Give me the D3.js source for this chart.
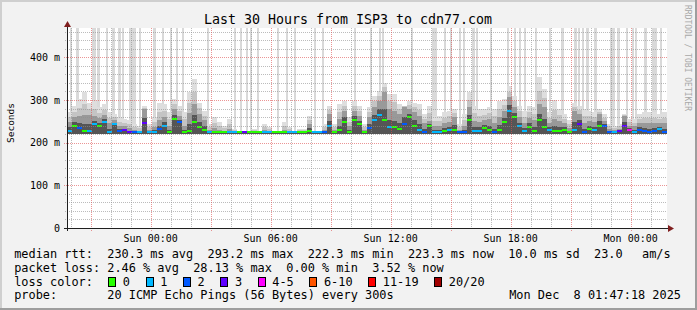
<!DOCTYPE html>
<html>
<head>
<meta charset="utf-8">
<title>Last 30 Hours from ISP3 to cdn77.com</title>
<script src="https://cdnjs.cloudflare.com/ajax/libs/d3/7.8.5/d3.min.js"></script>
<style>
    body { margin: 0; background: #f2f2f2; }
    svg { display: block; }
    text { font-family: "DejaVu Sans Mono", monospace; fill: #000; }
</style>
</head>
<body>
<div id="chart"></div>
<script>

// time window of the graph, one bucket = 15 minutes
var chartStart = new Date(2025, 11, 6, 19, 49);
var chartEnd = new Date(2025, 11, 8, 1, 49);
var bucketMinutes = 15;
var yMax = 468.75;          // ms, top of the canvas
var smokeFloor = 221;       // ms, fastest pings

// median rtt per bucket (ms)
var medianRtt = [
    228, 240, 234, 228, 228, 244, 240, 248, 224, 244, 228, 230, 224, 224, 224, 245, 224, 224, 232, 240, 224, 255, 248, 224,
    228, 248, 236, 230, 224, 224, 224, 224, 224, 224, 224, 224, 224, 224, 224, 224, 224, 224, 224, 224, 224, 224, 224, 226,
    228, 224, 224, 224, 240, 224, 230, 249, 224, 253, 244, 224, 234, 252, 265, 252, 236, 236, 232, 244, 261, 240, 230, 224,
    238, 224, 224, 228, 230, 230, 224, 224, 252, 228, 228, 234, 230, 224, 230, 248, 275, 259, 238, 227, 237, 228, 252, 236,
    230, 227, 228, 230, 224, 230, 244, 224, 232, 230, 240, 240, 224, 224, 228, 240, 230, 224, 230, 227, 224, 227, 232, 224
];

// index into lossColors per bucket
var lossBucket = [
    1, 0, 2, 0, 1, 1, 0, 1, 1, 1, 2, 3, 3, 2, 1, 3, 1, 1, 2, 1, 0, 0, 2, 0,
    0, 0, 0, 0, 1, 0, 0, 0, 1, 1, 0, 3, 0, 0, 0, 1, 1, 0, 0, 0, 1, 1, 0, 0,
    0, 1, 1, 2, 1, 0, 0, 0, 0, 0, 0, 0, 2, 1, 1, 0, 1, 0, 0, 2, 0, 0, 1, 2,
    0, 1, 1, 0, 1, 0, 2, 2, 0, 1, 1, 0, 0, 2, 0, 0, 1, 0, 1, 1, 0, 0, 0, 0,
    1, 0, 0, 0, 0, 1, 3, 2, 0, 1, 0, 2, 2, 1, 3, 3, 4, 1, 2, 2, 2, 2, 1, 2
];

// top of the dense (dark) smoke per bucket (ms)
var smokeInner = [
    248, 259, 262, 265, 265, 262, 258, 264, 245, 252, 240, 238, 234, 230, 228, 278, 230, 236, 252, 260, 240, 278, 262, 238,
    270, 290, 268, 252, 230, 234, 230, 228, 232, 226, 225, 225, 225, 226, 225, 230, 228, 225, 225, 230, 228, 225, 226, 228,
    244, 225, 225, 230, 267, 230, 255, 275, 238, 275, 262, 230, 259, 283, 298, 318, 279, 275, 267, 283, 279, 271, 263, 245,
    251, 240, 240, 245, 248, 259, 230, 240, 283, 251, 248, 252, 255, 245, 259, 275, 306, 283, 260, 245, 258, 252, 290, 283,
    245, 255, 250, 245, 235, 275, 267, 245, 250, 248, 267, 250, 232, 230, 232, 263, 240, 238, 245, 245, 245, 245, 245, 245
];

// top of the light smoke per bucket (ms)
var smokeOuter = [
    271, 287, 302, 318, 294, 298, 283, 290, 271, 267, 259, 255, 252, 244, 240, 285, 244, 259, 294, 290, 271, 302, 287, 271,
    318, 349, 294, 275, 244, 259, 248, 240, 255, 232, 228, 228, 227, 232, 227, 244, 236, 227, 228, 248, 236, 228, 232, 232,
    263, 228, 227, 244, 287, 244, 291, 298, 259, 298, 287, 244, 283, 310, 322, 341, 314, 314, 291, 287, 298, 294, 291, 267,
    287, 263, 263, 271, 275, 279, 244, 267, 318, 287, 279, 279, 283, 279, 298, 302, 333, 310, 287, 275, 287, 283, 353, 326,
    271, 300, 279, 267, 252, 294, 287, 279, 275, 271, 279, 267, 244, 240, 244, 267, 255, 255, 267, 271, 271, 271, 267, 271
];

// pings lost above the top of the graph: start (hours after chartStart), length (5 min steps)
var spikeHour = [
    0.165, 0.45, 1.235, 1.35, 1.5, 1.935, 2.235, 2.565, 2.765, 3.1, 3.6, 4.315, 4.735, 5.165, 5.435, 5.765,
    7.0, 8.335, 8.665, 8.935, 9.15, 9.5, 10.5, 10.965, 11.335, 12.335, 12.735, 14.335, 15.165, 15.6, 15.735,
    17.2, 18.265, 18.865, 19.135, 19.6, 19.8, 20.235, 20.435, 21.135, 22.0, 22.365, 22.6, 22.865, 23.4,
    24.1, 24.7, 25.335, 25.565, 25.735, 25.965, 26.335, 27.165, 27.5, 27.935, 28.265, 28.4, 28.835, 29.235, 29.665
];
var spikeSteps = [
    1, 2, 1, 1, 2, 1, 2, 2, 1, 4, 1, 2, 1, 1, 1, 1,
    1, 1, 1, 1, 1, 1, 1, 1, 1, 1, 1, 1, 1, 1, 1,
    1, 3, 1, 1, 1, 1, 2, 1, 1, 1, 1, 1, 1, 1,
    1, 2, 2, 1, 1, 2, 2, 3, 2, 1, 1, 1, 2, 3, 1
];

var yTicks = [0, 100, 200, 300, 400];
var lossLabels = ["0", "1", "2", "3", "4-5", "6-10", "11-19", "20/20"];
var lossColors = ["#26ff00", "#00b8ff", "#0059ff", "#5e00ff", "#ff00ff", "#ff5500", "#ff0000", "#a10000"];

var titleText = "Last 30 Hours from ISP3 to cdn77.com";
var legendLines = [
    "median rtt:  230.3 ms avg  293.2 ms max  222.3 ms min  223.3 ms now  10.0 ms sd  23.0",
    "packet loss: 2.46 % avg  28.13 % max  0.00 % min  3.52 % now",
    "loss color:",
    "probe:       20 ICMP Echo Pings (56 Bytes) every 300s"
];
var unitText = "am/s";
var stampText = "Mon Dec  8 01:47:18 2025";


SmokeChart = function(_parentElement){
    this.parentElement = _parentElement;
    this.initVis();
}

SmokeChart.prototype.initVis = function(){
    var vis = this;

    vis.width = 697;
    vis.height = 310;
    vis.margin = { top: 28, right: 30, bottom: 82, left: 67 };
    vis.plotW = vis.width - vis.margin.left - vis.margin.right;
    vis.plotH = vis.height - vis.margin.top - vis.margin.bottom;

    vis.svg = d3.select(vis.parentElement).append("svg")
        .attr("width", vis.width)
        .attr("height", vis.height);

    vis.x = d3.scaleTime()
        .domain([chartStart, chartEnd])
        .range([vis.margin.left, vis.margin.left + vis.plotW]);

    vis.y = d3.scaleLinear()
        .domain([0, yMax])
        .range([vis.margin.top + vis.plotH, vis.margin.top]);

    // rrdtool frame
    vis.svg.append("rect").attr("width", vis.width).attr("height", vis.height).style("fill", "#f2f2f2");
    vis.svg.append("rect").attr("width", vis.width).attr("height", 2).style("fill", "#cfcfcf");
    vis.svg.append("rect").attr("width", 2).attr("height", vis.height).style("fill", "#cfcfcf");
    vis.svg.append("rect").attr("y", vis.height - 2).attr("width", vis.width).attr("height", 2).style("fill", "#9e9e9e");
    vis.svg.append("rect").attr("x", vis.width - 2).attr("width", 2).attr("height", vis.height).style("fill", "#9e9e9e");

    vis.svg.append("rect")
        .attr("x", vis.margin.left).attr("y", vis.margin.top)
        .attr("width", vis.plotW).attr("height", vis.plotH)
        .style("fill", "#ffffff");

    vis.wrangleData();
};

SmokeChart.prototype.wrangleData = function(){
    var vis = this;

    vis.buckets = medianRtt.map(function(m, i) {
        return {
            t0: d3.timeMinute.offset(chartStart, i * bucketMinutes),
            t1: d3.timeMinute.offset(chartStart, (i + 1) * bucketMinutes),
            median: m,
            loss: lossBucket[i],
            inner: smokeInner[i],
            outer: smokeOuter[i]
        };
    });

    vis.spikes = spikeHour.map(function(h, i) {
        var t0 = d3.timeMinute.offset(chartStart, Math.round(h * 60));
        return { t0: t0, t1: d3.timeMinute.offset(t0, spikeSteps[i] * 5) };
    });

    vis.updateVis();
};

SmokeChart.prototype.updateVis = function(){
    var vis = this;
    var x = vis.x, y = vis.y;
    var bottom = vis.margin.top + vis.plotH;
    var right = vis.margin.left + vis.plotW;

    // lost pings reaching past the top
    vis.svg.append("g").style("shape-rendering", "crispEdges").selectAll("rect")
        .data(vis.spikes)
        .enter().append("rect")
        .attr("x", function(d) { return Math.round(x(d.t0)); })
        .attr("y", y(yMax))
        .attr("width", function(d) { return Math.max(2, Math.round(x(d.t1) - x(d.t0))); })
        .attr("height", y(smokeFloor) - y(yMax))
        .style("fill", "#d9d9d9");

    // smoke, light to dark
    var layers = [
        { color: "#dedede", top: function(d) { return d.outer; } },
        { color: "#c4c4c4", top: function(d) { return (d.inner + d.outer) / 2; } },
        { color: "#999999", top: function(d) { return d.inner; } },
        { color: "#555555", top: function(d) { return d.median + (d.inner - d.median) * 0.4; } }
    ];

    layers.forEach(function(layer) {
        vis.svg.append("g").style("shape-rendering", "crispEdges").selectAll("rect")
            .data(vis.buckets)
            .enter().append("rect")
            .attr("x", function(d) { return x(d.t0); })
            .attr("y", function(d) { return y(layer.top(d)); })
            .attr("width", function(d) { return x(d.t1) - x(d.t0); })
            .attr("height", function(d) { return y(smokeFloor) - y(layer.top(d)); })
            .style("fill", layer.color);
    });

    // median, coloured by loss
    vis.svg.append("g").style("shape-rendering", "crispEdges").selectAll("rect")
        .data(vis.buckets)
        .enter().append("rect")
        .attr("x", function(d) { return x(d.t0); })
        .attr("y", function(d) { return Math.round(y(d.median)) - 1; })
        .attr("width", function(d) { return x(d.t1) - x(d.t0); })
        .attr("height", 2)
        .style("fill", function(d) { return lossColors[d.loss]; });

    // grid
    var gridColor = "rgba(143,143,143,0.6)";
    var majorColor = "rgba(222,79,79,0.6)";
    var grid = vis.svg.append("g").style("stroke-dasharray", "1,1").style("stroke-width", 1);

    var minorY = d3.range(20, yMax, 20).filter(function(v) { return v % 100 !== 0; });
    grid.selectAll(".hminor")
        .data(minorY)
        .enter().append("line")
        .attr("class", "hminor")
        .attr("x1", vis.margin.left - 2).attr("x2", right)
        .attr("y1", function(d) { return Math.round(y(d)) + 0.5; })
        .attr("y2", function(d) { return Math.round(y(d)) + 0.5; })
        .style("stroke", gridColor);

    grid.selectAll(".hmajor")
        .data(yTicks.slice(1))
        .enter().append("line")
        .attr("class", "hmajor")
        .attr("x1", vis.margin.left - 3).attr("x2", right)
        .attr("y1", function(d) { return Math.round(y(d)) + 0.5; })
        .attr("y2", function(d) { return Math.round(y(d)) + 0.5; })
        .style("stroke", majorColor);

    var hours = d3.timeHour.range(chartStart, chartEnd);
    var majors = d3.timeHour.every(3).range(chartStart, chartEnd);
    var labelTimes = d3.timeHour.every(6).range(chartStart, chartEnd);

    grid.selectAll(".vminor")
        .data(hours.filter(function(d) { return d.getHours() % 3 !== 0; }))
        .enter().append("line")
        .attr("class", "vminor")
        .attr("x1", function(d) { return Math.round(x(d)) + 0.5; })
        .attr("x2", function(d) { return Math.round(x(d)) + 0.5; })
        .attr("y1", vis.margin.top).attr("y2", bottom + 2)
        .style("stroke", gridColor);

    grid.selectAll(".vmajor")
        .data(majors)
        .enter().append("line")
        .attr("class", "vmajor")
        .attr("x1", function(d) { return Math.round(x(d)) + 0.5; })
        .attr("x2", function(d) { return Math.round(x(d)) + 0.5; })
        .attr("y1", vis.margin.top).attr("y2", bottom + 3)
        .style("stroke", majorColor);

    // axes with arrows
    var axisColor = "#1f1f1f", arrowColor = "#801f1f";
    vis.svg.append("line")
        .attr("x1", vis.margin.left - 3).attr("x2", right + 2)
        .attr("y1", bottom + 0.5).attr("y2", bottom + 0.5)
        .style("stroke", axisColor);
    vis.svg.append("line")
        .attr("x1", vis.margin.left + 0.5).attr("x2", vis.margin.left + 0.5)
        .attr("y1", bottom + 3).attr("y2", vis.margin.top - 3)
        .style("stroke", axisColor);
    vis.svg.append("path")
        .attr("d", "M" + (right + 1) + "," + (bottom - 3) + "L" + (right + 7) + "," + (bottom + 0.5) + "L" + (right + 1) + "," + (bottom + 4) + "Z")
        .style("fill", arrowColor);
    vis.svg.append("path")
        .attr("d", "M" + (vis.margin.left - 3) + "," + (vis.margin.top - 1) + "L" + (vis.margin.left + 0.5) + "," + (vis.margin.top - 7) + "L" + (vis.margin.left + 4) + "," + (vis.margin.top - 1) + "Z")
        .style("fill", arrowColor);

    // tick labels
    vis.svg.append("g").selectAll("text")
        .data(yTicks)
        .enter().append("text")
        .attr("x", vis.margin.left - 7)
        .attr("y", function(d) { return y(d) + 3.6; })
        .attr("text-anchor", "end")
        .style("font-size", "10px")
        .text(function(d) { return d === 0 ? "0" : d + " m"; });

    var fmt = d3.timeFormat("%a %H:%M");
    vis.svg.append("g").selectAll("text")
        .data(labelTimes)
        .enter().append("text")
        .attr("x", function(d) { return x(d); })
        .attr("y", bottom + 14)
        .attr("text-anchor", "middle")
        .style("font-size", "10px")
        .text(function(d) { return fmt(d); });

    // title, unit, watermark
    vis.svg.append("text")
        .attr("x", 348).attr("y", 24)
        .attr("text-anchor", "middle")
        .style("font-size", "13.3px")
        .text(titleText);

    vis.svg.append("text")
        .attr("transform", "translate(14,123) rotate(-90)")
        .attr("text-anchor", "middle")
        .style("font-size", "9.5px")
        .text("Seconds");

    vis.svg.append("text")
        .attr("transform", "translate(685,58) rotate(90)")
        .attr("text-anchor", "middle")
        .style("font-size", "8px")
        .style("fill", "#a8a8a8")
        .text("RRDTOOL / TOBI OETIKER");

    // legend
    var lineY = [258.3, 272, 285.7, 299.3];
    vis.svg.append("g").selectAll("text")
        .data(legendLines)
        .enter().append("text")
        .attr("x", 14.2)
        .attr("y", function(d, i) { return lineY[i]; })
        .attr("xml:space", "preserve")
        .style("white-space", "pre")
        .style("font-size", "11.9px")
        .text(function(d) { return d; });

    vis.svg.append("text")
        .attr("x", 642).attr("y", lineY[0])
        .style("font-size", "11.9px")
        .text(unitText);

    vis.svg.append("text")
        .attr("x", 681).attr("y", lineY[3])
        .attr("text-anchor", "end")
        .attr("xml:space", "preserve")
        .style("white-space", "pre")
        .style("font-size", "11.9px")
        .text(stampText);

    var charW = 7.16, boxX = 108.3, items = [];
    lossLabels.forEach(function(l, i) {
        items.push({ label: l, color: lossColors[i], x: boxX });
        boxX += 30.2 + charW * l.length;
    });

    var legend = vis.svg.append("g").selectAll("g")
        .data(items)
        .enter().append("g");
    legend.append("rect")
        .attr("x", function(d) { return Math.round(d.x) + 0.5; })
        .attr("y", lineY[2] - 8.2)
        .attr("width", 7).attr("height", 9)
        .style("fill", function(d) { return d.color; })
        .style("stroke", "#000");
    legend.append("text")
        .attr("x", function(d) { return d.x + 14.5; })
        .attr("y", lineY[2])
        .style("font-size", "11.9px")
        .text(function(d) { return d.label; });
};

new SmokeChart("#chart");

</script>
</body>
</html>
